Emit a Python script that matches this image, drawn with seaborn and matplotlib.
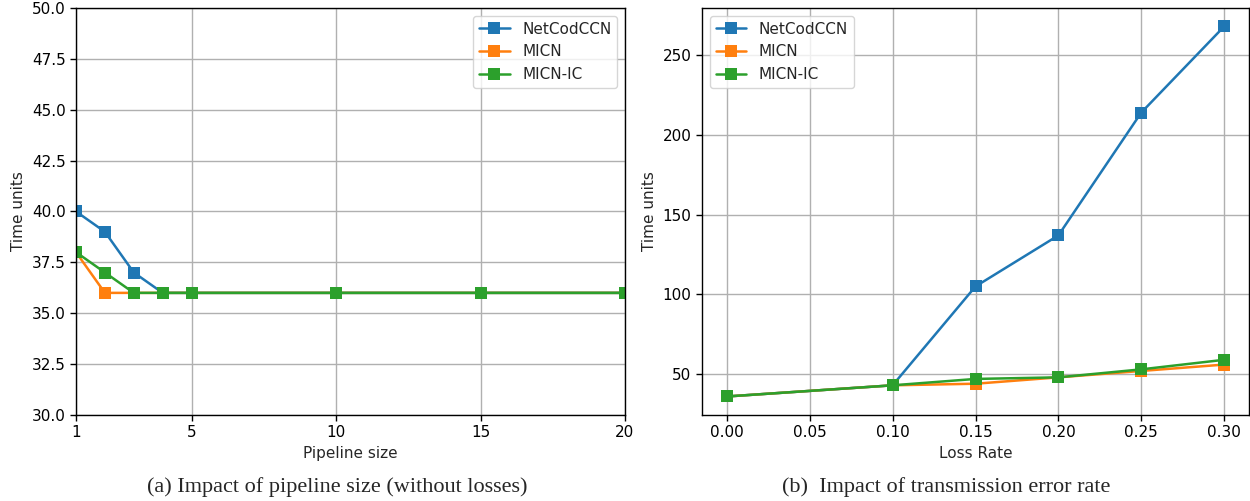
import numpy as np
import pandas as pd
import matplotlib
matplotlib.use("Agg")
import matplotlib.pyplot as plt
import seaborn as sns

series = ["NetCodCCN", "MICN", "MICN-IC"]
colors = ["#1f77b4", "#ff7f0e", "#2ca02c"]

pipeline = [1, 2, 3, 4, 5, 10, 15, 20]
pipe_netcod = [40, 39, 37, 36, 36, 36, 36, 36]
pipe_micn = [38, 36, 36, 36, 36, 36, 36, 36]
pipe_micnic = [38, 37, 36, 36, 36, 36, 36, 36]

loss = [0.0, 0.10, 0.15, 0.20, 0.25, 0.30]
loss_netcod = [36, 43, 105, 137, 214, 268]
loss_micn = [36, 43, 44, 48, 52, 56]
loss_micnic = [36, 43, 47, 48, 53, 59]

left_xticks = [1, 5, 10, 15, 20]
left_yticks = [30.0, 32.5, 35.0, 37.5, 40.0, 42.5, 45.0, 47.5, 50.0]
right_xticks = [0.00, 0.05, 0.10, 0.15, 0.20, 0.25, 0.30]
right_yticks = [50, 100, 150, 200, 250]

sns.set_style("ticks")
plt.rcParams["font.family"] = ["DejaVu Sans"]
plt.rcParams["font.size"] = 11

fig = plt.figure(figsize=(12.5, 5.01), dpi=100)
ax1 = fig.add_axes([0.0608, 0.1717, 0.4392, 0.8124])
ax2 = fig.add_axes([0.5616, 0.1717, 0.4376, 0.8124])

for name, ys, c in zip(series, [pipe_netcod, pipe_micn, pipe_micnic], colors):
    sns.lineplot(x=pipeline, y=ys, ax=ax1, color=c, marker="s", markersize=8,
                 markeredgewidth=0, linewidth=1.8, label=name)
for name, ys, c in zip(series, [loss_netcod, loss_micn, loss_micnic], colors):
    sns.lineplot(x=loss, y=ys, ax=ax2, color=c, marker="s", markersize=8,
                 markeredgewidth=0, linewidth=1.8, label=name)

ax1.set_xlim(1, 20)
ax1.set_ylim(30, 50)
ax1.set_xticks(left_xticks)
ax1.set_yticks(left_yticks)
ax1.set_yticklabels([f"{v:.1f}" for v in left_yticks])
ax1.set_xlabel("Pipeline size")
ax1.set_ylabel("Time units")
ax1.legend(loc="upper right", fontsize=11)

ax2.set_xticks(right_xticks)
ax2.set_xticklabels([f"{v:.2f}" for v in right_xticks])
ax2.set_yticks(right_yticks)
ax2.set_xlabel("Loss Rate")
ax2.set_ylabel("Time units")
ax2.legend(loc="upper left", fontsize=11)

for ax in (ax1, ax2):
    ax.grid(True, color="#b0b0b0", linewidth=1.0)
    ax.tick_params(direction="out", length=4, width=1, colors="black", labelsize=11)
    for s in ax.spines.values():
        s.set_visible(True)
        s.set_color("black")
        s.set_linewidth(1.0)

fig.text(0.2696, 0.028, "(a) Impact of pipeline size (without losses)",
         ha="center", va="center", family="Liberation Serif", fontsize=16)
fig.text(0.7568, 0.028, "(b)  Impact of transmission error rate",
         ha="center", va="center", family="Liberation Serif", fontsize=16)

fig.savefig("out.png", dpi=100)
